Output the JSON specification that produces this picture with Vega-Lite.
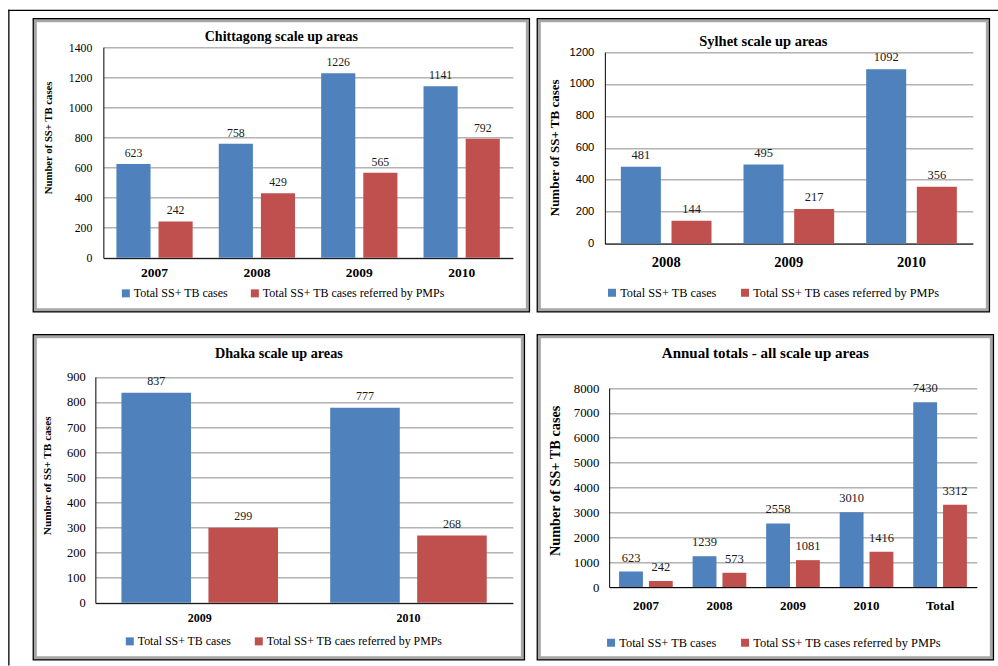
{
  "$schema": "https://vega.github.io/schema/vega-lite/v6.json",
  "background": "white",
  "autosize": {"type": "pad"},
  "padding": {"left": 3.85, "top": 5.35, "right": 0, "bottom": 0},
  "columns": 2,
  "bounds": "flush",
  "align": "none",
  "spacing": {"row": 24, "column": 9},
  "resolve": {"scale": {"color": "independent", "xOffset": "independent"}, "legend": {"color": "independent"}},
  "config": {
    "view": {"stroke": "#000000", "strokeWidth": 2.5},
    "font": "Liberation Serif",
    "axis": {
      "labelColor": "#000000",
      "titleColor": "#000000",
      "domainColor": "#000000",
      "domainWidth": 1,
      "ticks": false,
      "gridColor": "#8c8c8c",
      "gridWidth": 1,
      "labelOverlap": false,
      "tickCount": 20,
      "labelFont": "Liberation Serif",
      "titleFont": "Liberation Serif"
    },
    "legend": {
      "orient": "none",
      "direction": "horizontal",
      "symbolType": "square",
      "symbolSize": 64,
      "symbolStrokeWidth": 0,
      "labelFont": "Liberation Serif",
      "labelColor": "#000000",
      "labelOffset": 2,
      "labelLimit": 400,
      "padding": 0
    },
    "title": {"color": "#000000", "fontWeight": "bold", "font": "Liberation Serif", "anchor": "middle", "frame": "group", "baseline": "middle"}
  },
  "concat": [
    {
      "width": 495,
      "height": 292,
      "title": {"text": "Chittagong scale up areas", "fontSize": 14, "offset": -37},
      "data": {"values": [
        {"year": "2007", "series": "Total SS+ TB cases", "value": 623},
        {"year": "2007", "series": "Total SS+ TB cases referred by PMPs", "value": 242},
        {"year": "2008", "series": "Total SS+ TB cases", "value": 758},
        {"year": "2008", "series": "Total SS+ TB cases referred by PMPs", "value": 429},
        {"year": "2009", "series": "Total SS+ TB cases", "value": 1226},
        {"year": "2009", "series": "Total SS+ TB cases referred by PMPs", "value": 565},
        {"year": "2010", "series": "Total SS+ TB cases", "value": 1141},
        {"year": "2010", "series": "Total SS+ TB cases referred by PMPs", "value": 792}
      ]},
      "resolve": {"scale": {"x": "independent", "y": "independent"}, "axis": {"x": "independent", "y": "independent"}},
      "layer": [
        {
          "data": {"values": [{}]},
          "mark": {"type": "rect", "filled": false, "stroke": "#a6a6a6", "strokeWidth": 6, "clip": true},
          "encoding": {}
        },
        {
          "layer": [
            {
              "mark": {"type": "bar"},
              "encoding": {
                "x": {"field": "year", "type": "nominal", "sort": null,
                  "scale": {"range": [69.5, 479], "paddingInner": 0, "paddingOuter": 0},
                  "axis": {"orient": "bottom", "offset": -53.5, "title": null, "labelAngle": 0, "labelFontWeight": "bold", "labelFontSize": 13.5, "labelPadding": 8}},
                "xOffset": {"field": "series", "type": "nominal",
                  "scale": {"domain": ["Total SS+ TB cases", "Total SS+ TB cases referred by PMPs"], "paddingInner": 0.19, "paddingOuter": 0.31}},
                "y": {"field": "value", "type": "quantitative",
                  "scale": {"domain": [0, 1400], "range": [238.5, 27.8], "nice": false},
                  "axis": {"orient": "left", "offset": -69.5, "values": [0, 200, 400, 600, 800, 1000, 1200, 1400], "format": "d", "grid": true,
                    "labelFontSize": 11.8, "labelPadding": 11.5,
                    "title": "Number of SS+ TB cases", "titleFontSize": 10.7, "titleFontWeight": "bold",
                    "titleX": -54.5, "titleY": 118, "titleAngle": -90, "titleAlign": "center", "titleBaseline": "middle"}},
                "color": {"field": "series", "type": "nominal",
                  "scale": {"domain": ["Total SS+ TB cases", "Total SS+ TB cases referred by PMPs"], "range": ["#4F81BD", "#C0504D"]},
                  "legend": {"title": null, "legendX": 86, "legendY": 268, "labelFontSize": 12, "columnPadding": 20}}
              }
            },
            {
              "mark": {"type": "text", "baseline": "alphabetic", "dy": -7, "fontSize": 11.8, "font": "Liberation Serif", "color": "#1a1a1a"},
              "encoding": {
                "x": {"field": "year", "type": "nominal", "sort": null},
                "xOffset": {"field": "series", "type": "nominal"},
                "y": {"field": "value", "type": "quantitative"},
                "text": {"field": "value", "type": "quantitative", "format": "d"}
              }
            }
          ]
        },
        {
          "mark": {"type": "point", "opacity": 0},
          "encoding": {
            "x": {"datum": 0, "type": "quantitative",
              "scale": {"domain": [0, 1], "range": [-25.5, 963]},
              "axis": {"orient": "top", "offset": 9.5, "labels": false, "ticks": false, "grid": false, "title": null, "domainWidth": 1.3, "domainCap": "square"}},
            "y": {"datum": 0, "type": "quantitative",
              "scale": {"domain": [0, 1], "range": [-9.5, 645]},
              "axis": {"orient": "left", "offset": 25.5, "labels": false, "ticks": false, "grid": false, "title": null, "domainWidth": 1.3, "domainCap": "square"}}
          }
        }
      ]
    },
    {
      "width": 451,
      "height": 292,
      "title": {"text": "Sylhet scale up areas", "fontSize": 14.5, "offset": -30},
      "data": {"values": [
        {"year": "2008", "series": "Total SS+ TB cases", "value": 481},
        {"year": "2008", "series": "Total SS+ TB cases referred by PMPs", "value": 144},
        {"year": "2009", "series": "Total SS+ TB cases", "value": 495},
        {"year": "2009", "series": "Total SS+ TB cases referred by PMPs", "value": 217},
        {"year": "2010", "series": "Total SS+ TB cases", "value": 1092},
        {"year": "2010", "series": "Total SS+ TB cases referred by PMPs", "value": 356}
      ]},
      "layer": [
        {
          "data": {"values": [{}]},
          "mark": {"type": "rect", "filled": false, "stroke": "#a6a6a6", "strokeWidth": 6, "clip": true},
          "encoding": {}
        },
        {
          "mark": {"type": "bar"},
          "encoding": {
            "x": {"field": "year", "type": "nominal", "sort": null,
              "scale": {"range": [67, 435], "paddingInner": 0, "paddingOuter": 0},
              "axis": {"orient": "bottom", "offset": -67.7, "title": null, "labelAngle": 0, "labelFontWeight": "bold", "labelFontSize": 14.5, "labelPadding": 12}},
            "xOffset": {"field": "series", "type": "nominal",
              "scale": {"domain": ["Total SS+ TB cases", "Total SS+ TB cases referred by PMPs"], "paddingInner": 0.21, "paddingOuter": 0.316}},
            "y": {"field": "value", "type": "quantitative",
              "scale": {"domain": [0, 1200], "range": [224.3, 32.7], "nice": false},
              "axis": {"orient": "left", "offset": -67, "values": [0, 200, 400, 600, 800, 1000, 1200], "format": "d", "grid": true,
                "labelFont": "Liberation Sans", "labelFontSize": 11.2, "labelPadding": 11,
                "title": "Number of SS+ TB cases", "titleFontSize": 13, "titleFontWeight": "bold",
                "titleX": -50, "titleY": 128, "titleAngle": -90, "titleAlign": "center", "titleBaseline": "middle"}},
            "color": {"field": "series", "type": "nominal",
              "scale": {"domain": ["Total SS+ TB cases", "Total SS+ TB cases referred by PMPs"], "range": ["#4F81BD", "#C0504D"]},
              "legend": {"title": null, "legendX": 68, "legendY": 267, "labelFontSize": 12.3, "columnPadding": 22}}
          }
        },
        {
          "mark": {"type": "text", "baseline": "alphabetic", "dy": -8, "fontSize": 12.5, "font": "Liberation Serif", "color": "#1a1a1a"},
          "encoding": {
            "x": {"field": "year", "type": "nominal", "sort": null},
            "xOffset": {"field": "series", "type": "nominal"},
            "y": {"field": "value", "type": "quantitative"},
            "text": {"field": "value", "type": "quantitative", "format": "d"}
          }
        }
      ]
    },
    {
      "width": 490,
      "height": 324,
      "title": {"text": "Dhaka scale up areas", "fontSize": 14.2, "offset": -26},
      "data": {"values": [
        {"year": "2009", "series": "Total SS+ TB cases", "value": 837},
        {"year": "2009", "series": "Total SS+ TB caes referred by PMPs", "value": 299},
        {"year": "2010", "series": "Total SS+ TB cases", "value": 777},
        {"year": "2010", "series": "Total SS+ TB caes referred by PMPs", "value": 268}
      ]},
      "layer": [
        {
          "data": {"values": [{}]},
          "mark": {"type": "rect", "filled": false, "stroke": "#a6a6a6", "strokeWidth": 6, "clip": true},
          "encoding": {}
        },
        {
          "mark": {"type": "bar"},
          "encoding": {
            "x": {"field": "year", "type": "nominal", "sort": null,
              "scale": {"range": [61.5, 479], "paddingInner": 0, "paddingOuter": 0},
              "axis": {"orient": "bottom", "offset": -56.5, "title": null, "labelAngle": 0, "labelFontWeight": "bold", "labelFontSize": 12, "labelPadding": 10}},
            "xOffset": {"field": "series", "type": "nominal",
              "scale": {"domain": ["Total SS+ TB cases", "Total SS+ TB caes referred by PMPs"], "paddingInner": 0.2, "paddingOuter": 0.3}},
            "y": {"field": "value", "type": "quantitative",
              "scale": {"domain": [0, 900], "range": [267.5, 41.5], "nice": false},
              "axis": {"orient": "left", "offset": -61.5, "values": [0, 100, 200, 300, 400, 500, 600, 700, 800, 900], "format": "d", "grid": true,
                "labelFontSize": 12.5, "labelPadding": 10,
                "title": "Number of SS+ TB cases", "titleFontSize": 11.3, "titleFontWeight": "bold",
                "titleX": -47.5, "titleY": 140, "titleAngle": -90, "titleAlign": "center", "titleBaseline": "middle"}},
            "color": {"field": "series", "type": "nominal",
              "scale": {"domain": ["Total SS+ TB cases", "Total SS+ TB caes referred by PMPs"], "range": ["#4F81BD", "#C0504D"]},
              "legend": {"title": null, "legendX": 90, "legendY": 300, "labelFontSize": 11.9, "columnPadding": 21}}
          }
        },
        {
          "mark": {"type": "text", "baseline": "alphabetic", "dy": -7.3, "fontSize": 12, "font": "Liberation Serif", "color": "#1a1a1a"},
          "encoding": {
            "x": {"field": "year", "type": "nominal", "sort": null},
            "xOffset": {"field": "series", "type": "nominal"},
            "y": {"field": "value", "type": "quantitative"},
            "text": {"field": "value", "type": "quantitative", "format": "d"}
          }
        }
      ]
    },
    {
      "width": 455,
      "height": 324,
      "title": {"text": "Annual totals - all scale up areas", "fontSize": 15, "offset": -26},
      "data": {"values": [
        {"year": "2007", "series": "Total SS+ TB cases", "value": 623},
        {"year": "2007", "series": "Total SS+ TB cases referred by PMPs", "value": 242},
        {"year": "2008", "series": "Total SS+ TB cases", "value": 1239},
        {"year": "2008", "series": "Total SS+ TB cases referred by PMPs", "value": 573},
        {"year": "2009", "series": "Total SS+ TB cases", "value": 2558},
        {"year": "2009", "series": "Total SS+ TB cases referred by PMPs", "value": 1081},
        {"year": "2010", "series": "Total SS+ TB cases", "value": 3010},
        {"year": "2010", "series": "Total SS+ TB cases referred by PMPs", "value": 1416},
        {"year": "Total", "series": "Total SS+ TB cases", "value": 7430},
        {"year": "Total", "series": "Total SS+ TB cases referred by PMPs", "value": 3312}
      ]},
      "layer": [
        {
          "data": {"values": [{}]},
          "mark": {"type": "rect", "filled": false, "stroke": "#a6a6a6", "strokeWidth": 6, "clip": true},
          "encoding": {}
        },
        {
          "mark": {"type": "bar"},
          "encoding": {
            "x": {"field": "year", "type": "nominal", "sort": null,
              "scale": {"range": [71.3, 439], "paddingInner": 0, "paddingOuter": 0},
              "axis": {"orient": "bottom", "offset": -72.3, "title": null, "labelAngle": 0, "labelFontWeight": "bold", "labelFontSize": 13, "labelPadding": 12.9}},
            "xOffset": {"field": "series", "type": "nominal",
              "scale": {"domain": ["Total SS+ TB cases", "Total SS+ TB cases referred by PMPs"], "paddingInner": 0.2, "paddingOuter": 0.333}},
            "y": {"field": "value", "type": "quantitative",
              "scale": {"domain": [0, 8000], "range": [251.7, 52.7], "nice": false},
              "axis": {"orient": "left", "offset": -71.3, "values": [0, 1000, 2000, 3000, 4000, 5000, 6000, 7000, 8000], "format": "d", "grid": true,
                "labelFontSize": 12.8, "labelPadding": 10.3,
                "title": "Number of SS+ TB cases", "titleFontSize": 14.3, "titleFontWeight": "bold",
                "titleX": -53.3, "titleY": 145, "titleAngle": -90, "titleAlign": "center", "titleBaseline": "middle"}},
            "color": {"field": "series", "type": "nominal",
              "scale": {"domain": ["Total SS+ TB cases", "Total SS+ TB cases referred by PMPs"], "range": ["#4F81BD", "#C0504D"]},
              "legend": {"title": null, "legendX": 67, "legendY": 301, "labelFontSize": 12.4, "columnPadding": 22}}
          }
        },
        {
          "mark": {"type": "text", "baseline": "alphabetic", "dy": -10, "fontSize": 12.5, "font": "Liberation Serif", "color": "#1a1a1a"},
          "encoding": {
            "x": {"field": "year", "type": "nominal", "sort": null},
            "xOffset": {"field": "series", "type": "nominal"},
            "y": {"field": "value", "type": "quantitative"},
            "text": {"field": "value", "type": "quantitative", "format": "d"}
          }
        }
      ]
    }
  ]
}
